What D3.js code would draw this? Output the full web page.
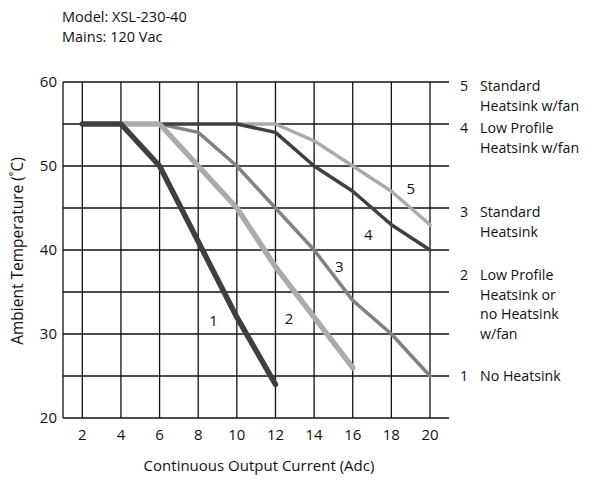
<!DOCTYPE html>
<meta charset="utf-8">
<style>
  body { margin: 0; background: #fff; }
  text { font-family: "Open Sans", sans-serif; fill: #111; }
</style>
<body>
<script src="https://d3js.org/d3.v7.min.js"></script>
<script>
// data
var xTicks = [2, 4, 6, 8, 10, 12, 14, 16, 18, 20];
var yTicks = [20, 25, 30, 35, 40, 45, 50, 55, 60];
var yLabels = [20, 30, 40, 50, 60];

var s1 = [[2, 55], [4, 55], [6, 50], [8, 41], [10, 32], [12, 24]];
var s2 = [[4, 55], [6, 55], [8, 50], [10, 45], [12, 38], [14, 32], [16, 26]];
var s3 = [[6, 55], [8, 54], [10, 50], [12, 45], [14, 40], [16, 34], [18, 30], [20, 25]];
var s4 = [[6, 55], [10, 55], [12, 54], [14, 50], [16, 47], [18, 43], [20, 40]];
var s5 = [[10, 55], [12, 55], [14, 53], [16, 50], [18, 47], [20, 43]];

var seriesNames = ["1", "2", "3", "4", "5"];
var labelPos = [[8.8, 31.6], [12.7, 31.8], [15.3, 38], [16.8, 41.8], [19, 47.3]];

var legendY = [25, 37, 44.5, 54.5, 59.5];
var legendText = [
  ["No Heatsink"],
  ["Low Profile", "Heatsink or", "no Heatsink", "w/fan"],
  ["Standard", "Heatsink"],
  ["Low Profile", "Heatsink w/fan"],
  ["Standard", "Heatsink w/fan"]
];

var W = 595, H = 480;
var svg = d3.select("body").append("svg").attr("width", W).attr("height", H);

var x = d3.scaleLinear().domain([1, 20]).range([63, 430]);
var y = d3.scaleLinear().domain([20, 60]).range([418, 82]);

// header
svg.append("text").attr("x", 62).attr("y", 22).style("font-size", "14.5px").text("Model: XSL-230-40");
svg.append("text").attr("x", 62).attr("y", 42).style("font-size", "14.5px").text("Mains: 120 Vac");

// grid
var grid = svg.append("g").attr("stroke", "#111").attr("stroke-width", 1.3);
grid.selectAll("line.v").data(xTicks).enter().append("line")
  .attr("x1", d => x(d)).attr("x2", d => x(d))
  .attr("y1", y(60)).attr("y2", y(20));
grid.selectAll("line.h").data(yTicks).enter().append("line")
  .attr("x1", x(1)).attr("x2", x(20) + 19)
  .attr("y1", d => y(d)).attr("y2", d => y(d));
grid.append("line")
  .attr("x1", x(1)).attr("x2", x(1)).attr("y1", y(60)).attr("y2", y(20));

// tick labels
svg.selectAll("text.yl").data(yLabels).enter().append("text")
  .attr("x", 57).attr("y", d => y(d)).attr("dy", "0.35em")
  .attr("text-anchor", "end").style("font-size", "15px").text(d => d);
svg.selectAll("text.xl").data(xTicks).enter().append("text")
  .attr("x", d => x(d)).attr("y", 440)
  .attr("text-anchor", "middle").style("font-size", "15px").text(d => d);

svg.append("text").attr("x", 259).attr("y", 471).attr("text-anchor", "middle")
  .style("font-size", "15px").text("Continuous Output Current (Adc)");
svg.append("text").attr("transform", "translate(23,251) rotate(-90)")
  .attr("text-anchor", "middle").style("font-size", "15.5px").text("Ambient Temperature (˚C)");

// curves
var line = d3.line().x(d => x(d[0])).y(d => y(d[1]));
var curves = [
  {d: s3, c: "#828282", w: 3.5},
  {d: s5, c: "#ababab", w: 3.5},
  {d: s4, c: "#404040", w: 3.5},
  {d: s2, c: "#ababab", w: 5.5},
  {d: s1, c: "#3f3f3f", w: 5.5}
];
svg.selectAll("path.curve").data(curves).enter().append("path")
  .attr("d", d => line(d.d)).attr("fill", "none")
  .attr("stroke", d => d.c).attr("stroke-width", d => d.w)
  .attr("stroke-linejoin", "round").attr("stroke-linecap", "round");

svg.selectAll("text.cl").data(labelPos).enter().append("text")
  .attr("x", d => x(d[0])).attr("y", d => y(d[1])).attr("dy", "0.35em")
  .attr("text-anchor", "middle").style("font-size", "15px")
  .text((d, i) => seriesNames[i]);

// legend on the right
var leg = svg.selectAll("g.leg").data(legendY).enter().append("g")
  .attr("transform", d => "translate(0," + y(d) + ")");
leg.append("text").attr("x", 464).attr("dy", "0.35em").attr("text-anchor", "middle")
  .style("font-size", "14.2px").text((d, i) => seriesNames[i]);
leg.each(function(d, i) {
  var g = d3.select(this);
  legendText[i].forEach(function(t, j) {
    g.append("text").attr("x", 480).attr("y", j * 19.5).attr("dy", "0.35em")
      .style("font-size", "14.2px").text(t);
  });
});
</script>
</body>
